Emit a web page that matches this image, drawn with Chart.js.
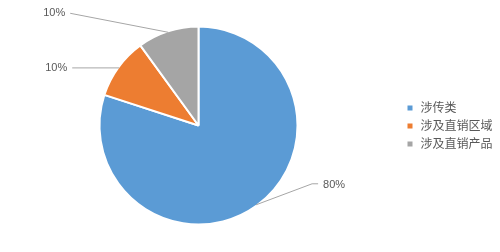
<!DOCTYPE html>
<html>
<head>
<meta charset="utf-8">
<script src="https://cdn.jsdelivr.net/npm/chart.js@4"></script>
<style>
html,body{margin:0;padding:0;background:#fff;}
#c{display:block;}
</style>
</head>
<body>
<canvas id="c" width="500" height="252"></canvas>
<script>
const categories = ['涉传类', '涉及直销区域', '涉及直销产品'];
const shares = [80, 10, 10];
const sliceColors = ['#5B9BD5', '#ED7D31', '#A5A5A5'];

const TEXT_COLOR = '#595959';
const LINE_COLOR = '#A6A6A6';

// Leader-line geometry relative to each slice's outer-edge midpoint (style only)
const leaderStyles = [
  { elbow: [56, -21], end: [62, -21], align: 'left', gap: 5, dy: 1 },
  { elbow: null, end: [-47, 0], align: 'right', gap: 5, dy: 0 },
  { elbow: null, end: [-98, -19], align: 'right', gap: 5, dy: 0 }
];

const pieLabels = {
  id: 'pieLabels',
  afterDatasetsDraw(chart) {
    const ctx = chart.ctx;
    const meta = chart.getDatasetMeta(0);
    const total = chart.data.datasets[0].data.reduce((a, b) => a + b, 0);
    ctx.save();
    meta.data.forEach((arc, i) => {
      const p = arc.getProps(['x', 'y', 'startAngle', 'endAngle', 'outerRadius'], true);
      const mid = (p.startAngle + p.endAngle) / 2;
      const ex = p.x + Math.cos(mid) * (p.outerRadius - 1);
      const ey = p.y + Math.sin(mid) * (p.outerRadius - 1);
      const s = leaderStyles[i];
      ctx.beginPath();
      ctx.strokeStyle = LINE_COLOR;
      ctx.lineWidth = 1;
      ctx.moveTo(ex, ey);
      if (s.elbow) ctx.lineTo(ex + s.elbow[0], ey + s.elbow[1]);
      const lx = ex + s.end[0], ly = ey + s.end[1];
      ctx.lineTo(lx, ly);
      ctx.stroke();
      const value = chart.data.datasets[0].data[i];
      const txt = Math.round(value / total * 100) + '%';
      ctx.fillStyle = TEXT_COLOR;
      ctx.font = '11px "Liberation Sans", Arial, sans-serif';
      ctx.textBaseline = 'middle';
      ctx.textAlign = s.align;
      ctx.fillText(txt, s.align === 'left' ? lx + s.gap : lx - s.gap, ly + s.dy);
    });
    ctx.restore();
  }
};

const sideLegend = {
  id: 'sideLegend',
  afterDraw(chart, args, opts) {
    const ctx = chart.ctx;
    const ds = chart.data.datasets[0];
    ctx.save();
    chart.data.labels.forEach((lab, i) => {
      const cy = opts.top + i * opts.rowGap;
      ctx.fillStyle = ds.backgroundColor[i];
      ctx.fillRect(opts.left, cy - opts.box / 2, opts.box, opts.box);
      ctx.fillStyle = TEXT_COLOR;
      ctx.font = '12px "Noto Sans CJK SC", sans-serif';
      ctx.textBaseline = 'middle';
      ctx.textAlign = 'left';
      ctx.fillText(lab, opts.left + opts.textGap, cy - 1);
    });
    ctx.restore();
  }
};

new Chart(document.getElementById('c'), {
  type: 'pie',
  data: {
    labels: categories,
    datasets: [{
      data: shares,
      backgroundColor: sliceColors,
      borderColor: '#ffffff',
      borderWidth: 2,
      hoverOffset: 0,
      radius: 99
    }]
  },
  options: {
    responsive: false,
    devicePixelRatio: 1,
    animation: false,
    events: [],
    layout: { padding: { left: 100.5, right: 203.5, top: 27.5, bottom: 28.5 } },
    plugins: {
      legend: { display: false },
      tooltip: { enabled: false },
      sideLegend: { left: 407.5, top: 108, rowGap: 18, box: 5, textGap: 13 }
    }
  },
  plugins: [pieLabels, sideLegend]
});
</script>
</body>
</html>
